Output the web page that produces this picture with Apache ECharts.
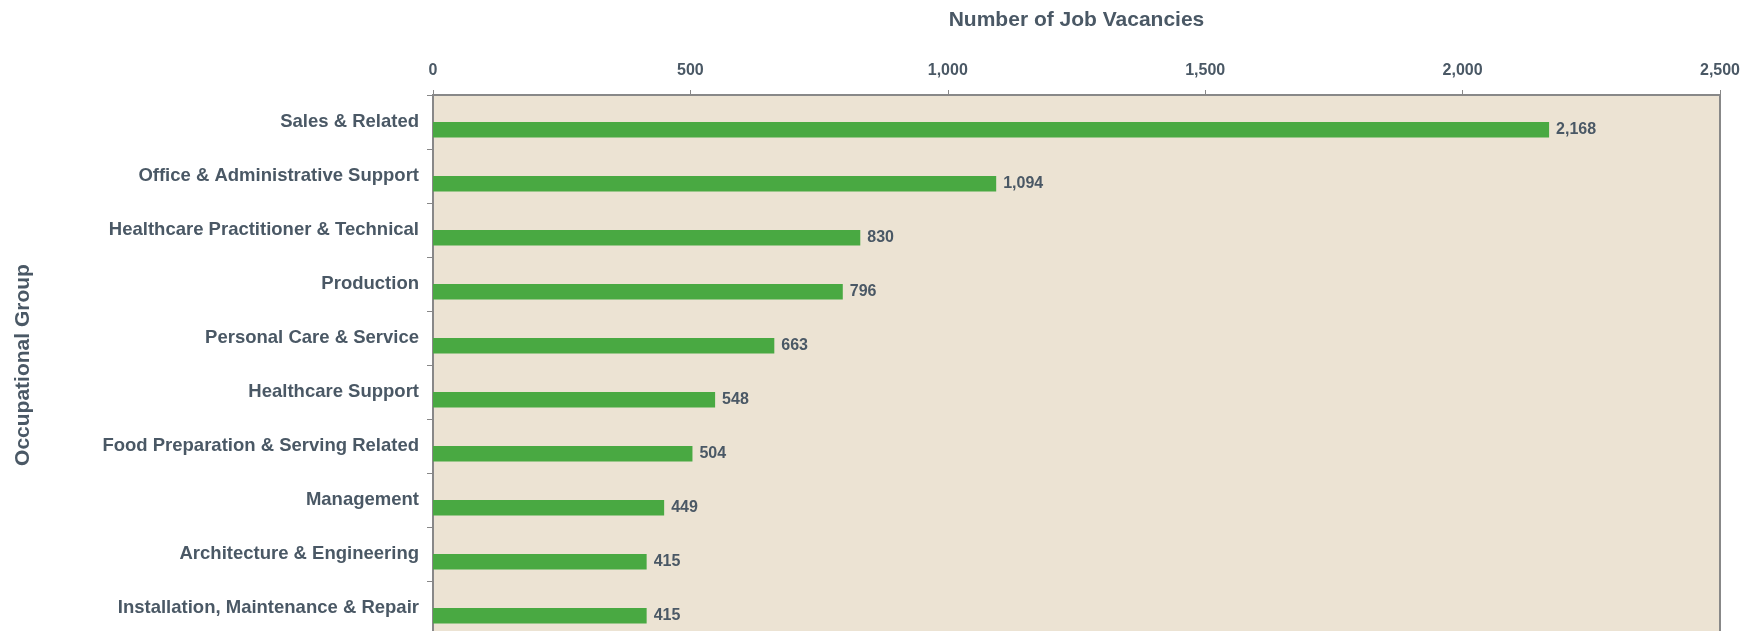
<!DOCTYPE html>
<html>
<head>
<meta charset="utf-8">
<script src="https://cdn.jsdelivr.net/npm/echarts@6/dist/echarts.min.js"></script>
<style>
  html, body { margin: 0; padding: 0; background: #fff; }
  #main { width: 1756px; height: 631px; }
</style>
</head>
<body>
<div id="main"></div>
<script>
const categories = [
  'Sales & Related',
  'Office & Administrative Support',
  'Healthcare Practitioner & Technical',
  'Production',
  'Personal Care & Service',
  'Healthcare Support',
  'Food Preparation & Serving Related',
  'Management',
  'Architecture & Engineering',
  'Installation, Maintenance & Repair'
];
const vacancies = [2168, 1094, 830, 796, 663, 548, 504, 449, 415, 415];
const xTicks = [0, 500, 1000, 1500, 2000, 2500];

const textColor = '#4a5865';
const font = "'Liberation Sans', Arial, sans-serif";

const chart = echarts.init(document.getElementById('main'));
chart.setOption({
  animation: false,
  textStyle: { fontFamily: font },
  grid: {
    left: 433, right: 36, top: 95, height: 540,
    outerBoundsMode: 'none',
    containLabel: false,
    show: true, backgroundColor: '#ece3d3', borderColor: '#888', borderWidth: 2
  },
  xAxis: {
    type: 'value',
    position: 'top',
    min: xTicks[0],
    max: xTicks[xTicks.length - 1],
    interval: 500,
    name: 'Number of Job Vacancies',
    nameLocation: 'middle',
    nameGap: 64,
    nameTextStyle: { color: textColor, fontSize: 21, fontWeight: 'bold', fontFamily: font },
    axisLine: { show: true, lineStyle: { color: '#888', width: 2 } },
    axisTick: { show: true, length: 5, lineStyle: { color: '#888' } },
    axisLabel: {
      color: textColor, fontSize: 16, fontWeight: 'bold', margin: 16,
      formatter: v => v.toLocaleString('en-US')
    },
    splitLine: { show: false }
  },
  yAxis: {
    type: 'category',
    inverse: true,
    data: categories,
    name: 'Occupational Group',
    nameLocation: 'middle',
    nameGap: 399,
    nameRotate: 90,
    nameTextStyle: { color: textColor, fontSize: 21, fontWeight: 'bold', fontFamily: font },
    axisLine: { show: true, lineStyle: { color: '#888', width: 2 } },
    axisTick: { show: true, length: 6, lineStyle: { color: '#888' } },
    axisLabel: { color: textColor, fontSize: 18.5, fontWeight: 'bold', margin: 14 }
  },
  series: [
    {
      // empty slot so the real bars sit in the lower half of each band
      type: 'bar',
      data: categories.map(() => null),
      barWidth: 15.4,
      barGap: '0%'
    },
    {
      type: 'bar',
      data: vacancies,
      barWidth: 15.4,
      barGap: '0%',
      itemStyle: { color: '#49a942' },
      label: {
        show: true, position: 'right', distance: 7,
        color: textColor, fontSize: 16, fontWeight: 'bold',
        formatter: p => p.value.toLocaleString('en-US')
      }
    }
  ]
});
</script>
</body>
</html>
